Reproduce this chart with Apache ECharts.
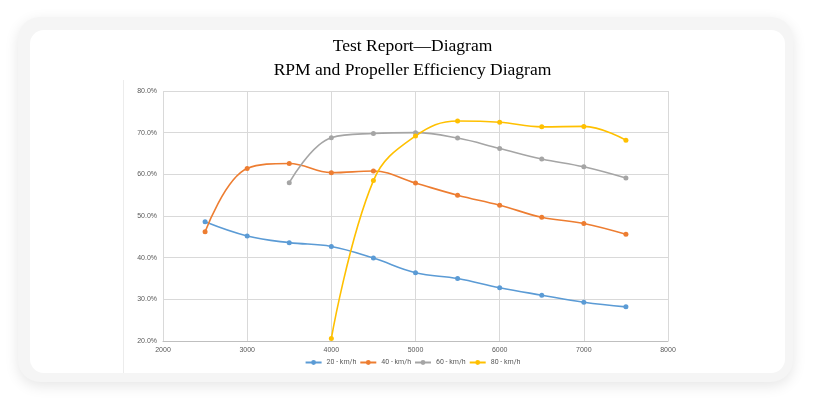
<!DOCTYPE html>
<html>
<head>
<meta charset="utf-8">
<script src="https://cdn.jsdelivr.net/npm/echarts@6/dist/echarts.min.js"></script>
<style>
  html, body { margin: 0; padding: 0; background: #ffffff; }
  #wrap { position: relative; width: 825px; height: 398px; overflow: hidden; }
  /* rounded card with soft shadow */
  #card {
    position: absolute; left: 18px; top: 17px; width: 775px; height: 365px;
    border-radius: 22px; background: #f5f5f5;
    box-shadow: 0 4px 14px rgba(0,0,0,0.10);
  }
  #inner {
    position: absolute; left: 30px; top: 30px; width: 755px; height: 343px;
    border-radius: 14px; background: #ffffff;
  }
  #edge { position: absolute; left: 123px; top: 80px; width: 1px; height: 293px; background: #ececec; }
  #main { position: absolute; left: 0; top: 0; width: 825px; height: 398px; }
</style>
</head>
<body>
<div id="wrap">
  <div id="card"></div>
  <div id="inner"></div>
  <div id="edge"></div>
  <div id="main"></div>
</div>
<script>
// RPM values
const rpm = [2500, 3000, 3500, 4000, 4500, 5000, 5500, 6000, 6500, 7000, 7500];

// Propeller efficiency per speed (null = no point)
const eff20 = [0.486, 0.452, 0.436, 0.427, 0.399, 0.364, 0.350, 0.328, 0.310, 0.293, 0.282];
const eff40 = [0.462, 0.614, 0.626, 0.604, 0.608, 0.579, 0.550, 0.526, 0.497, 0.482, 0.456];
const eff60 = [null, null, 0.580, 0.688, 0.698, 0.700, 0.687, 0.662, 0.637, 0.618, 0.591];
const eff80 = [null, null, null, 0.206, 0.585, 0.692, 0.728, 0.725, 0.714, 0.715, 0.682];

const seriesNames = ['20 - km/h', '40 - km/h', '60 - km/h', '80 - km/h'];
const seriesColors = ['#5b9bd5', '#ed7d31', '#a5a5a5', '#ffc000'];
const seriesData = [eff20, eff40, eff60, eff80];

const chart = echarts.init(document.getElementById('main'));

function pairs(vals) {
    const out = [];
    vals.forEach((v, i) => { if (v !== null) out.push([rpm[i], v]); });
    return out;
}

const option = {
    backgroundColor: 'transparent',
    animation: false,
    title: {
        text: 'Test Report\u2014Diagram\nRPM and Propeller Efficiency Diagram',
        left: 'center',
        top: 29,
        textStyle: {
            fontFamily: '"Liberation Serif", "DejaVu Serif", serif',
            fontSize: 17.5,
            fontWeight: 'normal',
            color: '#000000',
            lineHeight: 24
        }
    },
    legend: {
        bottom: 27,
        left: 'center',
        itemWidth: 16,
        itemHeight: 6,
        itemGap: 3,
        data: seriesNames,
        textStyle: { fontSize: 7, color: '#595959', fontFamily: 'Roboto, sans-serif' }
    },
    grid: { left: 163, right: 157, top: 91, bottom: 57 },
    xAxis: {
        type: 'value',
        min: 2000,
        max: 8000,
        interval: 1000,
        axisLine: { show: true, lineStyle: { color: '#bfbfbf' } },
        axisTick: { show: false },
        axisLabel: { fontSize: 7, color: '#595959', margin: 6, formatter: v => String(v) },
        splitLine: { show: true, lineStyle: { color: '#d9d9d9' } }
    },
    yAxis: {
        type: 'value',
        min: 0.2,
        max: 0.8,
        interval: 0.1,
        axisLine: { show: false },
        axisTick: { show: false },
        axisLabel: {
            fontSize: 7, color: '#595959', margin: 6,
            formatter: v => (v * 100).toFixed(1) + '%'
        },
        splitLine: { show: true, lineStyle: { color: '#d9d9d9' } }
    },
    series: seriesNames.map((name, i) => ({
        name: name,
        type: 'line',
        smooth: 0.4,
        data: pairs(seriesData[i]),
        symbol: 'circle',
        symbolSize: 5,
        lineStyle: { width: 1.6, color: seriesColors[i] },
        itemStyle: { color: seriesColors[i] }
    }))
};

chart.setOption(option);
</script>
</body>
</html>
